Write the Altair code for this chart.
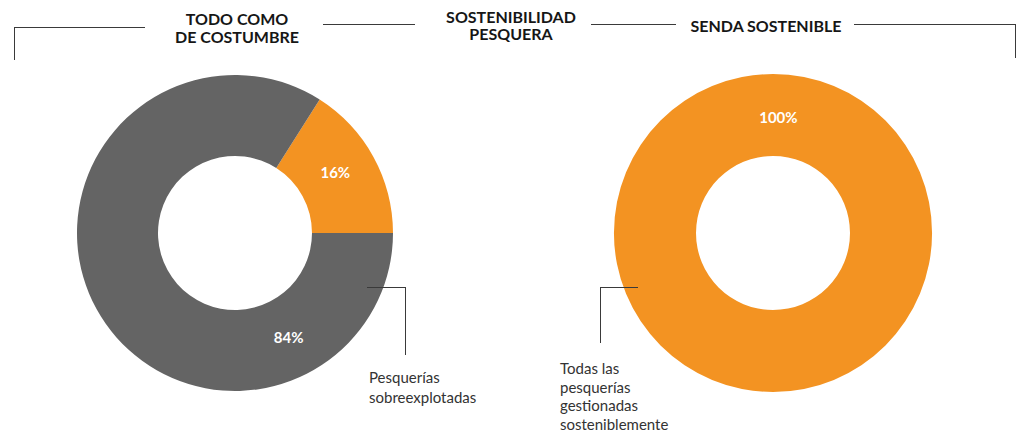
import math
import altair as alt
import pandas as pd

# ---- data ----
left_categories = ["Pesquerías sostenibles", "Pesquerías sobreexplotadas"]
left_values = [16, 84]
left_colors = ["#F39322", "#646464"]

right_categories = ["Todas las pesquerías gestionadas sosteniblemente"]
right_values = [100]
right_colors = ["#F39322"]

headers = [["TODO COMO", "DE COSTUMBRE"], ["SOSTENIBILIDAD", "PESQUERA"], ["SENDA SOSTENIBLE"]]
note_left = ["Pesquerías", "sobreexplotadas"]
note_right = ["Todas las", "pesquerías", "gestionadas", "sosteniblemente"]

left_df = pd.DataFrame({"cat": left_categories, "val": left_values, "orden": list(range(len(left_values)))})
left_df["pct"] = left_df["val"].astype(str) + "%"
right_df = pd.DataFrame({"cat": right_categories, "val": right_values, "orden": list(range(len(right_values)))})
right_df["pct"] = right_df["val"].astype(str) + "%"
dummy = pd.DataFrame({"a": [0]})

OFF = 8  # page margin
LINE = "#3a3a3a"
FONT = "Lato"

def px(v):
    return v - OFF

TWO_PI = 2 * math.pi
start_left = math.radians(32.4)

LCX, LCY = px(235), px(233)
RCX, RCY = px(773), px(233)
R_OUT, R_IN = 158, 77

left_donut = alt.Chart(left_df).mark_arc(outerRadius=R_OUT, innerRadius=R_IN).encode(
    x=alt.value(LCX), y=alt.value(LCY),
    theta=alt.Theta("val:Q", stack=True, scale=alt.Scale(range=[start_left, start_left + TWO_PI])),
    order=alt.Order("orden:Q"),
    color=alt.Color("cat:N", scale=alt.Scale(domain=left_categories, range=left_colors), legend=None),
)

right_donut = alt.Chart(right_df).mark_arc(outerRadius=R_OUT + 1, innerRadius=R_IN).encode(
    x=alt.value(RCX), y=alt.value(RCY),
    theta=alt.Theta("val2:Q", stack=True, scale=alt.Scale(range=[0, TWO_PI])),
    order=alt.Order("orden:Q"),
    color=alt.Color("cat2:N", scale=alt.Scale(domain=right_categories, range=right_colors), legend=None),
).transform_calculate(val2="datum.val", cat2="datum.cat")


def pct_label(df, idx, angle_deg, radius, cx, cy):
    return alt.Chart(df).transform_filter(alt.datum.orden == idx).mark_text(
        font=FONT, fontWeight="bold", fontSize=15, color="white", align="center", baseline="middle"
    ).encode(
        x=alt.value(cx), y=alt.value(cy),
        theta=alt.value(math.radians(angle_deg)), radius=alt.value(radius),
        text="pct:N",
    )

lab16 = pct_label(left_df, 0, 59, 117, LCX, LCY)
lab84 = pct_label(left_df, 1, 153, 118, LCX, LCY)
lab100 = pct_label(right_df, 0, 2.7, 115, RCX, RCY)


def rule(x1, y1, x2, y2):
    return alt.Chart(dummy).mark_rule(color=LINE, strokeWidth=1).encode(
        x=alt.value(px(x1)), y=alt.value(px(y1)), x2=alt.value(px(x2)), y2=alt.value(px(y2))
    )

rules = [
    rule(14, 27.5, 145, 27.5),
    rule(14.5, 27, 14.5, 60),
    rule(323, 24.5, 415, 24.5),
    rule(591, 24.5, 676, 24.5),
    rule(854, 24.5, 1015.5, 24.5),
    rule(1015.5, 24, 1015.5, 58),
    rule(367, 287.5, 405.5, 287.5),
    rule(405.5, 287, 405.5, 355),
    rule(600, 287.5, 638, 287.5),
    rule(600.5, 287, 600.5, 343),
]


def text(lines, x, y, align, size, weight, color, lh):
    return alt.Chart(dummy).mark_text(
        font=FONT, fontSize=size, fontWeight=weight, color=color,
        align=align, baseline="alphabetic", lineHeight=lh,
    ).encode(x=alt.value(px(x)), y=alt.value(px(y)), text=alt.value(lines))

texts = [
    text(headers[0], 237, 25, "center", 16, "bold", "#161616", 17.5),
    text(headers[1], 511, 22.5, "center", 16, "bold", "#161616", 17),
    text(headers[2], 766, 32, "center", 16, "bold", "#161616", 17),
    text(note_left, 369, 382.5, "left", 15, "normal", "#333333", 20),
    text(note_right, 560, 374, "left", 15, "normal", "#333333", 18.5),
]

chart = alt.layer(
    left_donut, right_donut, lab16, lab84, lab100, *rules, *texts
).resolve_scale(theta="independent", color="independent").properties(
    width=1020, height=423, padding=0, autosize=alt.AutoSizeParams(type="none")
).configure_view(stroke=None)

chart.save("out.html", embed_options={"renderer": "svg", "actions": False})
